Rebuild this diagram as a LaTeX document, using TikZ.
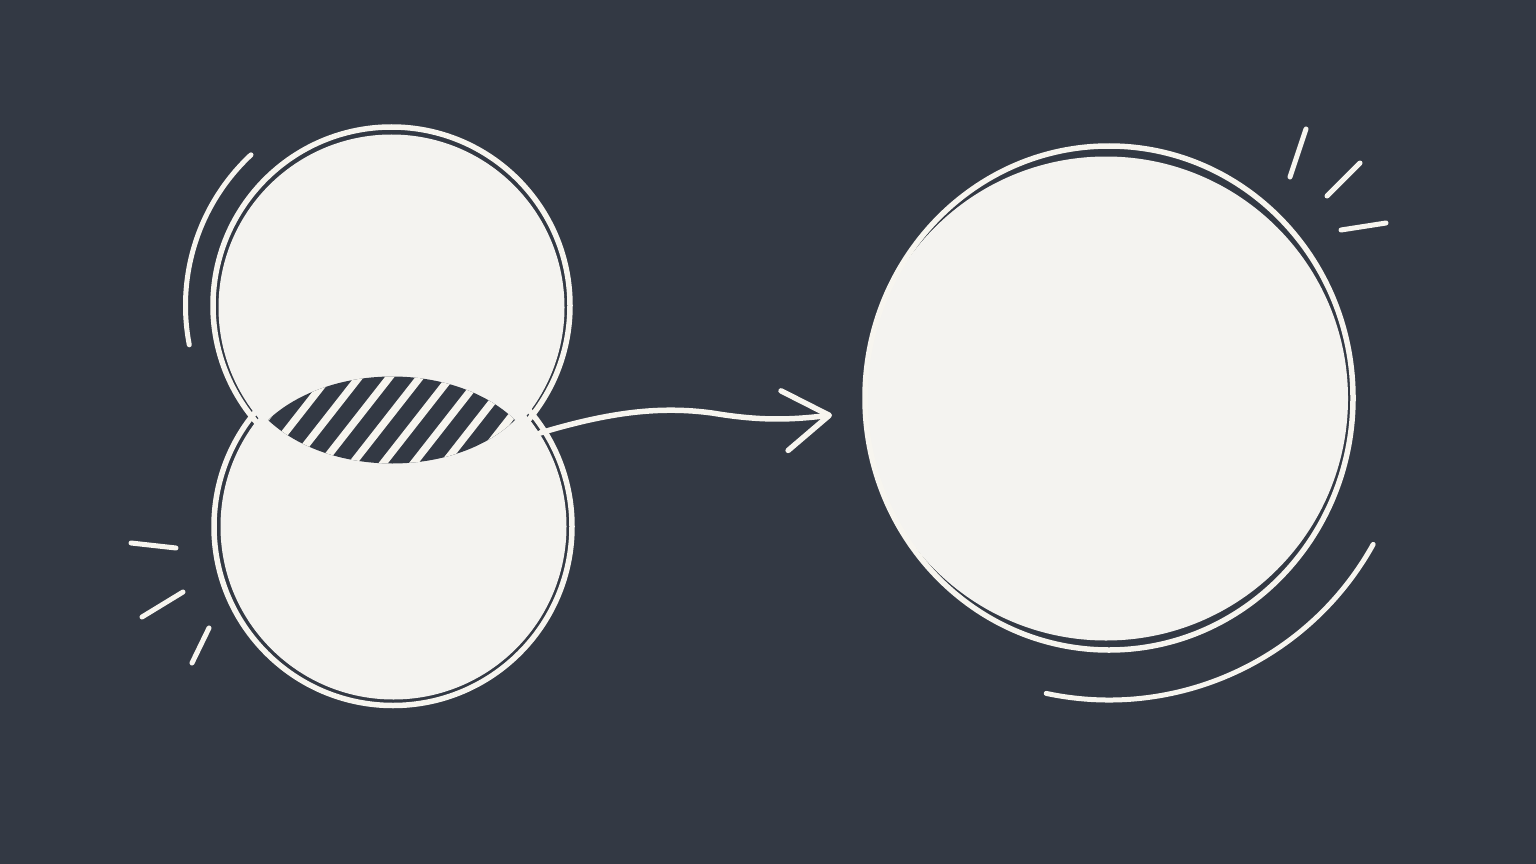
\documentclass[tikz,border=0pt]{standalone}
\usepackage{tikz}
\usepackage{color}
\usetikzlibrary{arrows.meta}

\definecolor{slate}{RGB}{51,57,68}
\definecolor{paper}{RGB}{244,243,240}
\definecolor{chalk}{RGB}{247,245,239}

\begin{document}
\begin{tikzpicture}[%
      x=1pt, y=-1pt,
      ring/.style={draw=chalk, line width=5.5pt},
      disc/.style={fill=paper},
      sketch/.style={draw=chalk, line width=5pt, line cap=round},
      stripe/.style={draw=chalk, line width=7.5pt},
      ]
      \fill [slate] (0,0) rectangle (1536,864);
      \useasboundingbox (0,0) rectangle (1536,864);

      \draw [ring] (391.5,305.5) circle (178.5);
      \draw [ring] (393,526.5) circle (179);
      \fill [disc] (391.5,307.5) circle (173);
      \fill [disc] (393.5,526.5) circle (173);

      \begin{scope}
      \clip (268,420) .. controls (330,362) and (455,362) .. (515,420)
            .. controls (455,478) and (330,478) .. (268,420);
      \fill [slate] (250,360) rectangle (530,480);
      \foreach \k in {-1,...,9}
        \draw [stripe] (248+30.5*\k,480) -- ++(94,-120);
      \end{scope}

      \fill [disc] (1106,398.5) circle (242);
      \draw [ring] (1109,398) ellipse (244 and 252);

      \coordinate (from) at (540,433);
      \coordinate (to) at (832,415);
      \draw [chalk, line width=5.5pt, line cap=round,
             -{Straight Barb[length=45pt, width=60pt, round]}]
            (from) .. controls (610,412) and (660,406) .. (712,413)
            .. controls (760,421) and (790,420) .. (to);

      \draw [sketch] (391.5,305.5) ++(-133:206) arc (-133:-191:206);
      \draw [sketch] (1109,398) ++(29:302) arc (29:102:302);

      \draw [sketch] (131,543) -- (176,548);
      \draw [sketch] (142,617) -- (183,592);
      \draw [sketch] (192,663) -- (209,628);

      \draw [sketch] (1290,177) -- (1306,129);
      \draw [sketch] (1327,196) -- (1360,163);
      \draw [sketch] (1341,230) -- (1386,223);
\end{tikzpicture}
\end{document}
